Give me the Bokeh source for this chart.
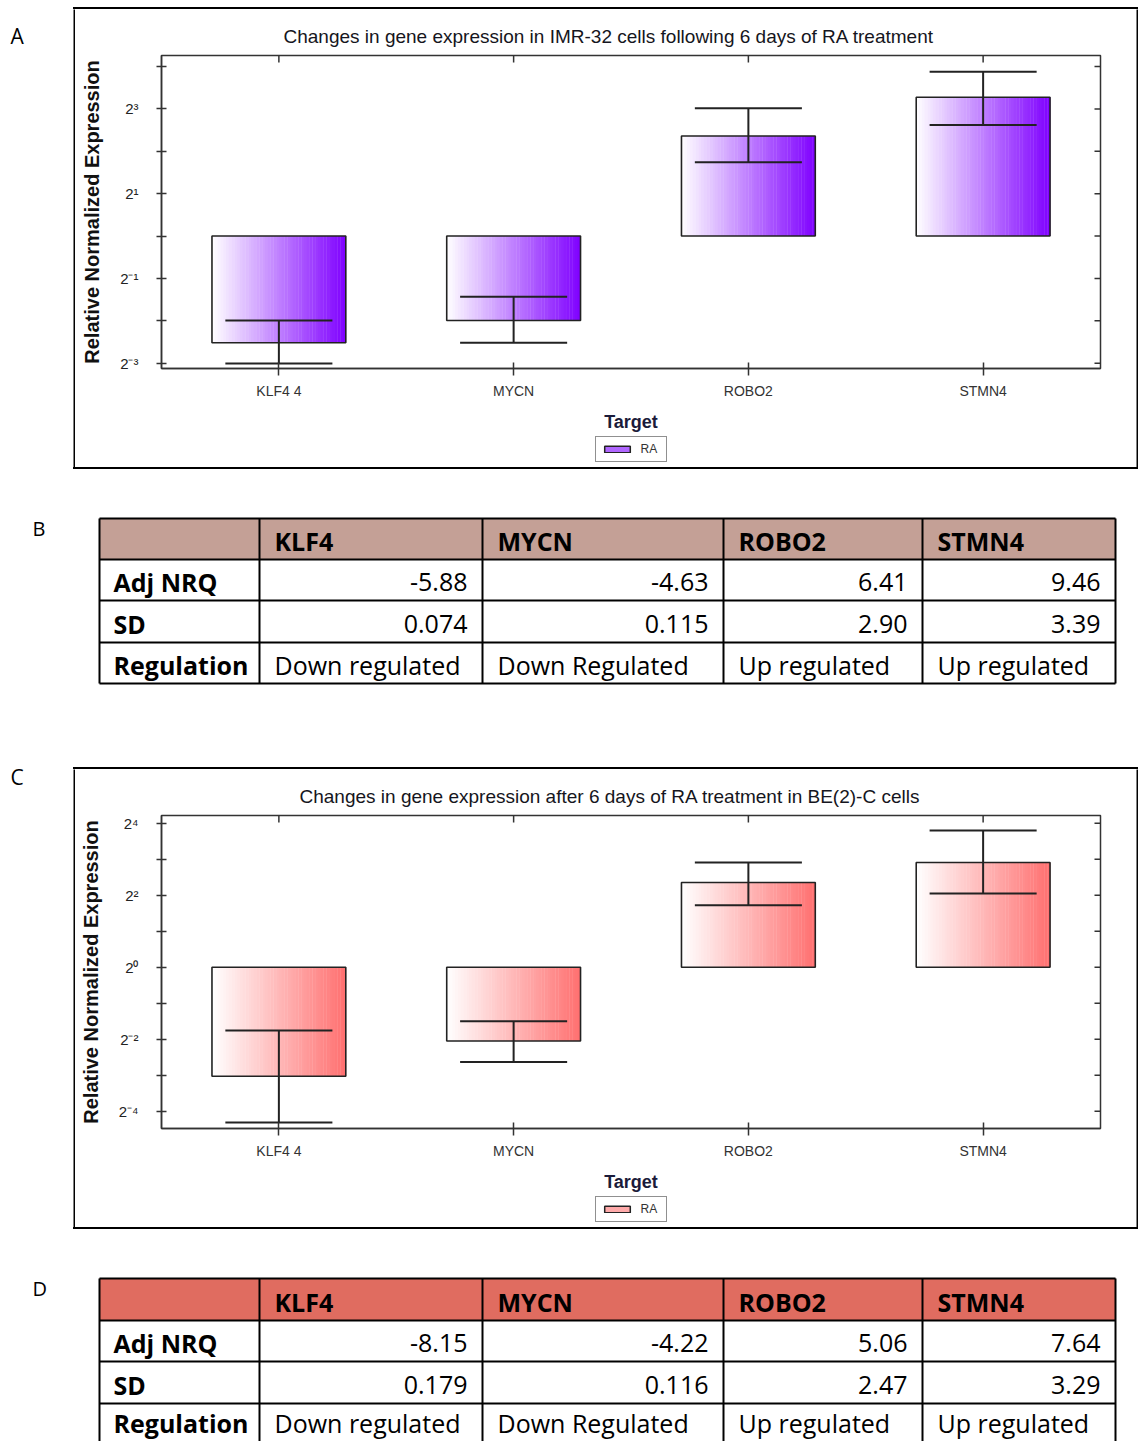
import numpy as np
from bokeh.plotting import figure
from bokeh.models import Range1d, FixedTicker, Legend, LegendItem, Spacer
from bokeh.layouts import column, row
from bokeh.embed import file_html
from bokeh.resources import INLINE
from bokeh.core.properties import value

# ---------------- data ----------------
targets = ["KLF4 4", "MYCN", "ROBO2", "STMN4"]

# Panel A (IMR-32) relative normalized expression
a_expr = [0.1746, 0.2515, 5.13, 9.67]
a_err_low = [0.1244, 0.1746, 3.35, 6.15]
a_err_high = [0.2515, 0.371, 8.10, 14.7]
a_major_ticks = [2**-3, 2**-1, 2**1, 2**3]
a_minor_ticks = [2**-2, 2**0, 2**2, 2**4]
a_tick_labels = ["2⁻³", "2⁻¹", "2¹", "2³"]

# Panel C (BE(2)-C)
c_expr = [0.1226, 0.2417, 5.11, 7.51]
c_err_low = [0.0503, 0.161, 3.29, 4.14]
c_err_high = [0.295, 0.353, 7.51, 13.9]
c_major_ticks = [2**-4, 2**-2, 2**0, 2**2, 2**4]
c_minor_ticks = [2**-3, 2**-1, 2**1, 2**3]
c_tick_labels = ["2⁻⁴", "2⁻²", "2⁰", "2²", "2⁴"]

# Tables
table_genes = ["KLF4", "MYCN", "ROBO2", "STMN4"]
row_names = ["Adj NRQ", "SD", "Regulation"]
b_adj = ["-5.88", "-4.63", "6.41", "9.46"]
b_sd = ["0.074", "0.115", "2.90", "3.39"]
b_reg = ["Down regulated", "Down Regulated", "Up regulated", "Up regulated"]
d_adj = ["-8.15", "-4.22", "5.06", "7.64"]
d_sd = ["0.179", "0.116", "2.47", "3.29"]
d_reg = ["Down regulated", "Down Regulated", "Up regulated", "Up regulated"]

CHART_FONT = "Liberation Sans"
TABLE_FONT = "Open Sans"


def mix(hex_color, t):
    r = int(hex_color[1:3], 16)
    g = int(hex_color[3:5], 16)
    b = int(hex_color[5:7], 16)
    return "#%02x%02x%02x" % (round(255 + (r - 255) * t),
                              round(255 + (g - 255) * t),
                              round(255 + (b - 255) * t))


def blank(width, height, color="white"):
    p = figure(width=width, height=height, output_backend="svg",
               toolbar_location=None, min_border=0,
               x_range=Range1d(0, 1), y_range=Range1d(0, 1))
    p.axis.visible = False
    p.grid.visible = False
    p.outline_line_color = None
    p.background_fill_color = color
    p.border_fill_color = color
    return p


def hbar():
    return Spacer(width=1065, height=2, styles={"background-color": "black"})


def make_chart(title, title_offset, expr, lo, hi, major, minor, tick_labels, ylo, yhi, color):
    p = figure(width=1061, height=425, x_range=Range1d(-0.5, 3.5),
               y_range=Range1d(ylo, yhi), y_axis_type="log",
               output_backend="svg", toolbar_location=None,
               min_border_left=86, min_border_right=36,
               min_border_top=46, min_border_bottom=66,
               title=title)
    p.grid.visible = False
    p.outline_line_color = "#333333"
    p.outline_line_width = 1.5

    p.title.align = "left"
    p.title.offset = title_offset
    p.title.standoff = 18
    p.title.text_font = CHART_FONT
    p.title.text_font_size = "19px"
    p.title.text_font_style = "normal"
    p.title.text_color = "#151520"

    # gradient bars (vertical strips)
    n = 48
    hw = 0.285
    L, R, B, T, C = [], [], [], [], []
    for i, v in enumerate(expr):
        for k in range(n):
            L.append(i - hw + 2 * hw * k / n)
            R.append(i - hw + 2 * hw * (k + 1) / n + 0.0015)
            B.append(min(1.0, v))
            T.append(max(1.0, v))
            C.append(mix(color, (k + 0.5) / n))
    p.quad(left=L, right=R, bottom=B, top=T, fill_color=C, line_color=None)
    xs = list(range(len(expr)))
    p.quad(left=[x - hw for x in xs], right=[x + hw for x in xs],
           bottom=[min(1.0, v) for v in expr], top=[max(1.0, v) for v in expr],
           fill_color=None, line_color="#222222", line_width=1.6)

    # error bars
    ww = 0.228
    p.segment(x0=xs, x1=xs, y0=lo, y1=hi, line_color="#222222", line_width=2)
    p.segment(x0=[x - ww for x in xs], x1=[x + ww for x in xs], y0=hi, y1=hi,
              line_color="#222222", line_width=2)
    p.segment(x0=[x - ww for x in xs], x1=[x + ww for x in xs], y0=lo, y1=lo,
              line_color="#222222", line_width=2)

    # mirrored inward ticks on top and right frame edges
    all_y = sorted(list(major) + list(minor))
    p.ray(x=[3.5] * len(all_y), y=all_y, length=6, length_units="screen",
          angle=np.pi, line_color="#333333", line_width=1.5)
    p.ray(x=xs, y=[yhi] * len(xs), length=7, length_units="screen",
          angle=-np.pi / 2, line_color="#333333", line_width=1.5)

    # x axis
    xa = p.xaxis[0]
    xa.ticker = FixedTicker(ticks=xs, minor_ticks=[])
    xa.major_label_overrides = {i: t for i, t in enumerate(targets)}
    xa.major_tick_in = 6
    xa.major_tick_out = 7
    xa.major_label_standoff = 7
    xa.major_label_text_font = CHART_FONT
    xa.major_label_text_font_size = "14px"
    xa.major_label_text_color = "#333333"
    xa.axis_label = "Target"
    xa.axis_label_text_font = CHART_FONT
    xa.axis_label_text_font_size = "18px"
    xa.axis_label_text_font_style = "bold"
    xa.axis_label_text_color = "#1b1b3a"
    xa.axis_label_standoff = 10
    xa.axis_line_width = 1.5
    xa.axis_line_color = "#333333"
    xa.major_tick_line_width = 1.5
    xa.major_tick_line_color = "#333333"

    # y axis
    ya = p.yaxis[0]
    ya.ticker = FixedTicker(ticks=major, minor_ticks=minor)
    ya.major_label_overrides = {float(t): lab for t, lab in zip(major, tick_labels)}
    ya.major_tick_in = 5
    ya.major_tick_out = 5
    ya.minor_tick_in = 5
    ya.minor_tick_out = 5
    ya.major_label_standoff = 18
    ya.major_label_text_font = CHART_FONT
    ya.major_label_text_font_size = "15px"
    ya.major_label_text_color = "#222222"
    ya.axis_label = "Relative Normalized Expression"
    ya.axis_label_text_font = CHART_FONT
    ya.axis_label_text_font_size = "20px"
    ya.axis_label_text_font_style = "bold"
    ya.axis_label_text_color = "#111111"
    ya.axis_label_standoff = 14
    ya.axis_line_width = 1.5
    ya.axis_line_color = "#333333"
    ya.major_tick_line_width = 1.5
    ya.major_tick_line_color = "#333333"
    ya.minor_tick_line_width = 1.5
    ya.minor_tick_line_color = "#333333"
    return p


def make_legend_fig(legend_color):
    p = figure(width=1061, height=33, output_backend="svg", toolbar_location=None,
               min_border_left=49, min_border_right=0, min_border_top=0,
               min_border_bottom=4, x_range=Range1d(0, 1), y_range=Range1d(0, 1))
    p.axis.visible = False
    p.grid.visible = False
    p.outline_line_color = None
    # swatch renderer kept outside the visible range; only its legend entry shows
    dummy = p.quad(left=[2], right=[3], bottom=[2], top=[3], fill_color=legend_color,
                   line_color="#222222", line_width=1.5)
    legend = Legend(items=[LegendItem(label="RA", renderers=[dummy])],
                    location="center", orientation="horizontal",
                    border_line_color="#222222", border_line_width=1.5,
                    background_fill_color="white",
                    glyph_width=32, glyph_height=8,
                    label_text_font=CHART_FONT, label_text_font_size="12px",
                    label_text_color="#333333",
                    padding=5, spacing=0, margin=0, label_standoff=8)
    p.add_layout(legend)
    return p


def boxed(chart, legend_fig):
    left = blank(2, 458, "black")
    right = blank(2, 458, "black")
    return column(hbar(), row(left, column(chart, legend_fig), right), hbar())


def make_label(letter, y_top, y_bot, y_text, x_text, width, font, size):
    p = figure(width=width, height=int(y_bot - y_top), x_range=Range1d(0, width),
               y_range=Range1d(y_bot, y_top), output_backend="svg",
               toolbar_location=None, min_border=0)
    p.axis.visible = False
    p.grid.visible = False
    p.outline_line_color = None
    p.text(x=[x_text], y=[y_text], text=[letter], text_font=value(font),
           text_font_size=size, text_align="left", text_baseline="middle",
           text_color="black")
    return p


def make_table(letter, y_top, y_bot, row_edges, header_color, adj, sd, reg):
    width = 1139
    p = figure(width=width, height=int(y_bot - y_top), x_range=Range1d(0, width),
               y_range=Range1d(y_bot, y_top), output_backend="svg",
               toolbar_location=None, min_border=0)
    p.axis.visible = False
    p.grid.visible = False
    p.outline_line_color = None
    col_edges = [99, 259, 482, 723, 922, 1115]
    p.quad(left=[col_edges[0]], right=[col_edges[-1]], top=[row_edges[0]],
           bottom=[row_edges[1]], fill_color=header_color, line_color=None)
    p.segment(x0=[col_edges[0]] * len(row_edges), x1=[col_edges[-1]] * len(row_edges),
              y0=row_edges, y1=row_edges, line_color="black", line_width=2)
    p.segment(x0=col_edges, x1=col_edges, y0=[row_edges[0]] * len(col_edges),
              y1=[row_edges[-1]] * len(col_edges), line_color="black", line_width=2)
    centers = [(row_edges[i] + row_edges[i + 1]) / 2 + 2 for i in range(len(row_edges) - 1)]
    centers[-1] = min(centers[-1], y_bot - 19)
    fs = "25px"
    p.text(x=[col_edges[j + 1] + 15 for j in range(4)], y=[centers[0]] * 4,
           text=table_genes, text_font=value(TABLE_FONT), text_font_size=fs,
           text_font_style="bold", text_align="left", text_baseline="middle",
           text_color="black")
    p.text(x=[col_edges[0] + 14] * 3, y=centers[1:], text=row_names,
           text_font=value(TABLE_FONT), text_font_size=fs, text_font_style="bold",
           text_align="left", text_baseline="middle", text_color="black")
    p.text(x=[col_edges[j + 2] - 15 for j in range(4)], y=[centers[1]] * 4, text=adj,
           text_font=value(TABLE_FONT), text_font_size=fs, text_align="right",
           text_baseline="middle", text_color="black")
    p.text(x=[col_edges[j + 2] - 15 for j in range(4)], y=[centers[2]] * 4, text=sd,
           text_font=value(TABLE_FONT), text_font_size=fs, text_align="right",
           text_baseline="middle", text_color="black")
    p.text(x=[col_edges[j + 1] + 15 for j in range(4)], y=[centers[3]] * 4, text=reg,
           text_font=value(TABLE_FONT), text_font_size=fs, text_align="left",
           text_baseline="middle", text_color="black")
    p.text(x=[32], y=[row_edges[0] + 10], text=[letter], text_font=value(TABLE_FONT),
           text_font_size="20px", text_align="left", text_baseline="middle",
           text_color="black")
    return p


chart_a = make_chart("Changes in gene expression in IMR-32 cells following 6 days of RA treatment",
                     122, a_expr, a_err_low, a_err_high, a_major_ticks, a_minor_ticks,
                     a_tick_labels, 2 ** -3.125, 2 ** 4.26, "#7f00ff")
chart_c = make_chart("Changes in gene expression after 6 days of RA treatment in BE(2)-C cells",
                     138, c_expr, c_err_low, c_err_high, c_major_ticks, c_minor_ticks,
                     c_tick_labels, 2 ** -4.48, 2 ** 4.213, "#ff7070")
legend_a = make_legend_fig("#b066ff")
legend_c = make_legend_fig("#ffaaaa")

label_a = make_label("A", 0, 470, 35, 10, 73, "Open Sans", "21px")
label_c = make_label("C", 760, 1231, 776, 10, 73, "Open Sans", "21px")
table_b = make_table("B", 470, 760, [518, 559, 600, 642, 683], "#c4a096", b_adj, b_sd, b_reg)
table_d = make_table("D", 1231, 1441, [1278, 1320, 1361, 1403, 1444], "#e06c60", d_adj, d_sd, d_reg)

block_a = row(label_a, column(Spacer(width=1065, height=7), boxed(chart_a, legend_a),
                              Spacer(width=1065, height=1)))
block_c = row(label_c, column(Spacer(width=1065, height=7), boxed(chart_c, legend_c),
                              Spacer(width=1065, height=2)))

layout = column(block_a, table_b, block_c, table_d)

open("out.html", "w").write(file_html(layout, INLINE))
